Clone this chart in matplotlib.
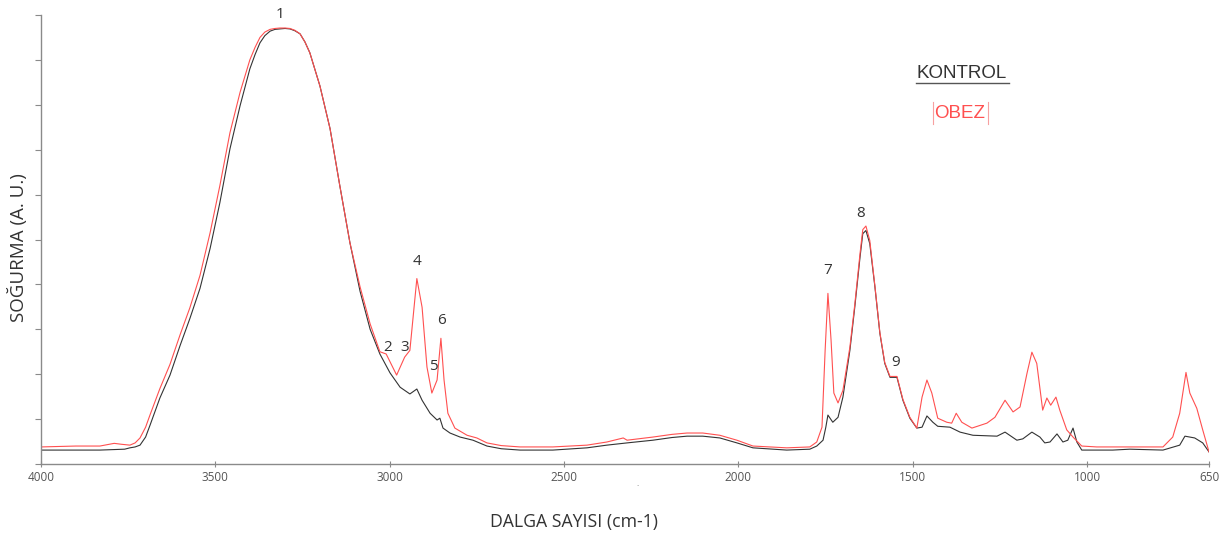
import matplotlib
matplotlib.use("Agg")
import matplotlib.pyplot as plt
from matplotlib.lines import Line2D

# ---- data ----
kontrol_wn = [4000, 3900, 3831, 3760, 3745, 3730, 3716, 3700, 3687, 3659, 3630, 3601, 3573,
              3544, 3515, 3487, 3458, 3429, 3401, 3386, 3372, 3358, 3343, 3329, 3315, 3300,
              3286, 3272, 3257, 3243, 3229, 3200, 3171, 3143, 3114, 3085, 3056, 3028, 2999,
              2970, 2942, 2922, 2907, 2884, 2864, 2856, 2847, 2827, 2798, 2761, 2721, 2680,
              2626, 2532, 2434, 2377, 2319, 2245, 2190, 2147, 2102, 2053, 2004, 1958, 1861,
              1795, 1775, 1757, 1749, 1743, 1729, 1714, 1700, 1680, 1666, 1651, 1643, 1634,
              1623, 1608, 1594, 1580, 1565, 1545, 1528, 1508, 1488, 1473, 1459, 1442, 1428,
              1393, 1364, 1327, 1258, 1235, 1201, 1184, 1158, 1135, 1121, 1106, 1086, 1069,
              1055, 1040, 1029, 1015, 926, 877, 782, 734, 719, 691, 668, 650]
kontrol_abs = [0.031, 0.031, 0.031, 0.033, 0.036, 0.038, 0.042, 0.060, 0.087, 0.147, 0.198,
               0.264, 0.324, 0.391, 0.480, 0.582, 0.702, 0.798, 0.880, 0.912, 0.938, 0.954,
               0.964, 0.968, 0.969, 0.970, 0.969, 0.965, 0.958, 0.940, 0.916, 0.842, 0.747,
               0.620, 0.493, 0.385, 0.300, 0.245, 0.203, 0.171, 0.156, 0.167, 0.142, 0.113,
               0.098, 0.102, 0.080, 0.069, 0.060, 0.053, 0.040, 0.034, 0.031, 0.031, 0.036,
               0.042, 0.047, 0.053, 0.059, 0.062, 0.062, 0.058, 0.047, 0.036, 0.031, 0.033,
               0.040, 0.053, 0.082, 0.109, 0.093, 0.104, 0.149, 0.253, 0.349, 0.460, 0.513,
               0.520, 0.491, 0.393, 0.291, 0.224, 0.193, 0.193, 0.142, 0.102, 0.080, 0.082,
               0.107, 0.093, 0.084, 0.082, 0.071, 0.064, 0.062, 0.071, 0.053, 0.056, 0.071,
               0.060, 0.047, 0.049, 0.067, 0.049, 0.053, 0.080, 0.049, 0.031, 0.031, 0.033,
               0.031, 0.042, 0.062, 0.058, 0.047, 0.027]

obez_wn = [4000, 3900, 3831, 3790, 3770, 3745, 3730, 3716, 3700, 3687, 3659, 3630, 3601,
           3573, 3544, 3515, 3487, 3458, 3429, 3401, 3386, 3372, 3358, 3343, 3329, 3315,
           3300, 3286, 3272, 3257, 3243, 3229, 3200, 3171, 3143, 3114, 3085, 3056, 3028,
           3010, 2980, 2957, 2942, 2922, 2907, 2893, 2879, 2864, 2853, 2844, 2833, 2813,
           2778, 2750, 2721, 2680, 2626, 2532, 2434, 2377, 2330, 2319, 2245, 2190, 2147,
           2102, 2053, 2004, 1958, 1861, 1795, 1775, 1760, 1751, 1743, 1734, 1726, 1714,
           1700, 1680, 1666, 1651, 1643, 1634, 1623, 1608, 1594, 1580, 1565, 1545, 1528,
           1508, 1488, 1473, 1459, 1445, 1428, 1402, 1388, 1375, 1359, 1330, 1287, 1264,
           1235, 1212, 1192, 1172, 1158, 1144, 1127, 1115, 1104, 1089, 1078, 1058, 1040,
           1015, 972, 877, 782, 754, 734, 716, 705, 685, 668, 650]
obez_abs = [0.038, 0.040, 0.040, 0.046, 0.044, 0.042, 0.047, 0.058, 0.082, 0.110, 0.168,
            0.222, 0.288, 0.348, 0.420, 0.515, 0.620, 0.738, 0.828, 0.900, 0.928, 0.950,
            0.962, 0.968, 0.970, 0.971, 0.971, 0.970, 0.966, 0.958, 0.940, 0.916, 0.842,
            0.747, 0.620, 0.493, 0.395, 0.312, 0.250, 0.245, 0.198, 0.238, 0.253, 0.413,
            0.349, 0.216, 0.158, 0.187, 0.280, 0.187, 0.113, 0.080, 0.064, 0.058, 0.047,
            0.041, 0.038, 0.038, 0.042, 0.049, 0.058, 0.053, 0.060, 0.066, 0.069, 0.069,
            0.064, 0.053, 0.040, 0.036, 0.038, 0.049, 0.082, 0.253, 0.380, 0.276, 0.158,
            0.136, 0.164, 0.260, 0.355, 0.468, 0.522, 0.530, 0.498, 0.395, 0.293, 0.226,
            0.195, 0.195, 0.144, 0.104, 0.080, 0.149, 0.187, 0.158, 0.102, 0.093, 0.091,
            0.113, 0.093, 0.080, 0.091, 0.104, 0.142, 0.116, 0.127, 0.202, 0.249, 0.224,
            0.120, 0.147, 0.131, 0.149, 0.120, 0.076, 0.060, 0.040, 0.038, 0.038, 0.038,
            0.060, 0.113, 0.204, 0.158, 0.124, 0.076, 0.027]

peak_labels = ["1", "2", "3", "4", "5", "6", "7", "8", "9"]
peak_wn = [3315, 3005, 2956, 2922, 2876, 2850, 1743, 1648, 1548]
peak_abs = [1.0, 0.26, 0.26, 0.451, 0.218, 0.32, 0.431, 0.558, 0.227]

xtick_values = [4000, 3500, 3000, 2500, 2000, 1500, 1000, 650]
xtick_labels = ["4000", "3500", "3000", "2500", "2000", "1500", "1000", "650"]

series_names = ["KONTROL", "OBEZ"]

# ---- figure ----
plt.rcParams['font.family'] = ['Open Sans', 'DejaVu Sans']
fig = plt.figure(figsize=(12.28, 5.35), dpi=100)
ax = fig.add_axes([41 / 1228, 1 - 464 / 535, (1209 - 41) / 1228, (464 - 15) / 535])

black = "#333333"
red = "#ff5050"
ax.plot(kontrol_wn, kontrol_abs, color=black, lw=0.8)
ax.plot(obez_wn, obez_abs, color=red, lw=0.8)

ax.set_xlim(4000, 650)
ax.set_ylim(0, 1.0)

for s in ["top", "right"]:
    ax.spines[s].set_visible(False)
for s in ["left", "bottom"]:
    ax.spines[s].set_color("#8a8a8a")
    ax.spines[s].set_linewidth(1.0)

ax.set_xticks(xtick_values)
ax.set_xticklabels(xtick_labels)
ax.tick_params(axis="x", direction="inout", length=4, width=0.8, colors="#8a8a8a",
               labelcolor="#555555", labelsize=8.5, pad=3)
ax.set_yticks([i / 10 for i in range(11)])
ax.set_yticklabels([])
ax.tick_params(axis="y", direction="out", length=4, width=0.8, colors="#8a8a8a")

for lab, x, y in zip(peak_labels, peak_wn, peak_abs):
    ax.text(x, y, lab, ha="center", va="center", fontsize=11, color="#333333", clip_on=False)

# legend-like texts
fig.text(962 / 1228, 1 - 73 / 535, series_names[0], ha="center", va="center",
         fontsize=13.5, color="#333333", family=["Liberation Sans", "DejaVu Sans"])
fig.add_artist(Line2D([916 / 1228, 1009 / 1228], [1 - 83 / 535, 1 - 83 / 535],
                      color="#555555", lw=1.0))
fig.text(960 / 1228, 1 - 113 / 535, series_names[1], ha="center", va="center",
         fontsize=13.5, color=red, family=["Liberation Sans", "DejaVu Sans"])
for xb in (933, 988):
    fig.add_artist(Line2D([xb / 1228, xb / 1228], [1 - 102 / 535, 1 - 124 / 535],
                          color="#f7a0a0", lw=0.8))

fig.text(18 / 1228, 1 - 248 / 535, "SOĞURMA (A. U.)", rotation=90, ha="center",
         va="center", fontsize=13.5, color="#333333")
fig.text(574 / 1228, 1 - 522 / 535, "DALGA SAYISI (cm-1)", ha="center", va="center",
         fontsize=12.7, color="#333333")
fig.text(638 / 1228, 1 - 485 / 535, ".", ha="center", va="center", fontsize=6, color="#777777")

fig.savefig("out.png", dpi=100, facecolor="white")
